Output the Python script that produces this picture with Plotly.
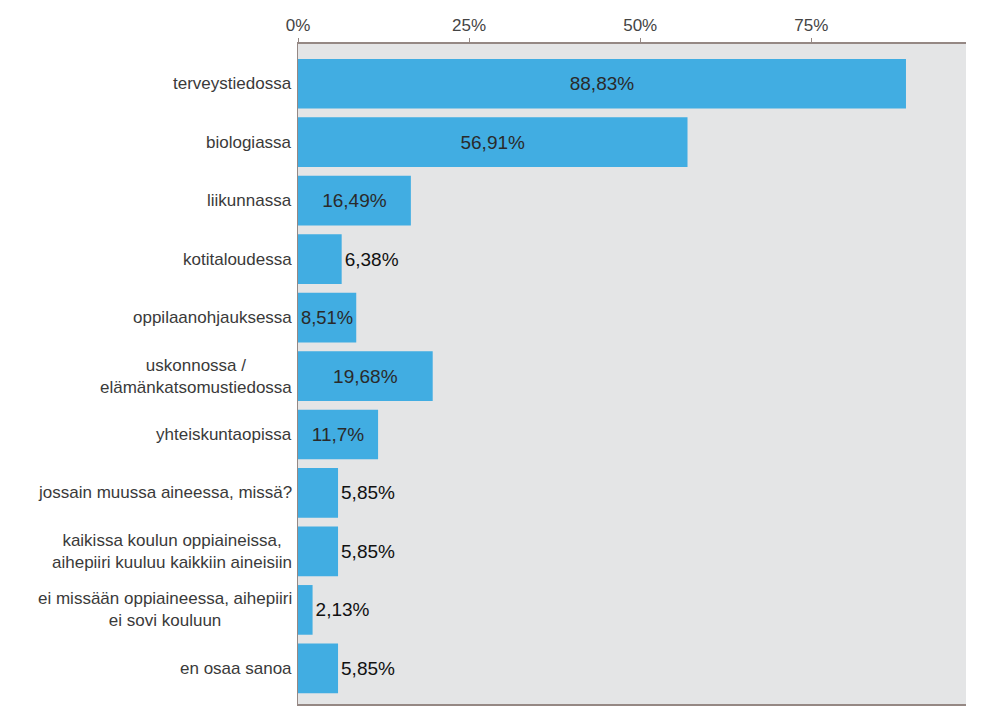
import plotly.graph_objects as go

categories = [
    "terveystiedossa",
    "biologiassa",
    "liikunnassa",
    "kotitaloudessa",
    "oppilaanohjauksessa",
    "uskonnossa /<br>elämänkatsomustiedossa",
    "yhteiskuntaopissa",
    "jossain muussa aineessa, missä?",
    "kaikissa koulun oppiaineissa,<br>aihepiiri kuuluu kaikkiin aineisiin",
    "ei missään oppiaineessa, aihepiiri<br>ei sovi kouluun",
    "en osaa sanoa",
]
values = [88.83, 56.91, 16.49, 6.38, 8.51, 19.68, 11.7, 5.85, 5.85, 2.13, 5.85]
value_labels = ["88,83%", "56,91%", "16,49%", "6,38%", "8,51%", "19,68%", "11,7%",
                "5,85%", "5,85%", "2,13%", "5,85%"]
tick_vals = [0, 25, 50, 75]
tick_text = ["0%", "25%", "50%", "75%"]

FONT = "Liberation Sans, Arial, sans-serif"
idx = list(range(len(categories)))
positions = ["inside" if v >= 8 else "outside" for v in values]

fig = go.Figure()
fig.add_trace(go.Bar(
    x=values, y=idx, orientation="h",
    marker=dict(color="#41ade2", line=dict(width=0)),
    text=value_labels, textposition=positions,
    insidetextanchor="middle",
    insidetextfont=dict(family=FONT, size=19, color="#2a2a2a"),
    outsidetextfont=dict(family=FONT, size=19, color="#111111"),
    cliponaxis=False,
    width=0.85,
    hoverinfo="skip",
))

for i, c in enumerate(categories):
    fig.add_annotation(
        x=0, y=i, xref="x", yref="y", text=c, showarrow=False,
        xanchor="right", yanchor="middle", align="center", xshift=-4,
        font=dict(family=FONT, size=17, color="#3a3a3a"),
    )

fig.update_layout(
    width=982, height=706,
    margin=dict(l=290, r=24, t=32, b=8),
    paper_bgcolor="white", plot_bgcolor="#e4e5e6",
    showlegend=False,
    uniformtext=dict(minsize=10, mode=False),
    xaxis=dict(
        side="top", range=[0, 97.6], tickvals=tick_vals, ticktext=tick_text,
        showgrid=False, zeroline=False, showline=True, linecolor="#958884", linewidth=1.5,
        mirror=True, ticks="outside", ticklen=4, tickcolor="#958884",
        tickfont=dict(family=FONT, size=17, color="#444444"),
        fixedrange=True,
    ),
    yaxis=dict(
        range=[10.61, -0.68], showticklabels=False, showgrid=False, zeroline=False,
        showline=True, linecolor="#958884", linewidth=1, ticks="", fixedrange=True,
    ),
)

fig.write_html("out.html")
